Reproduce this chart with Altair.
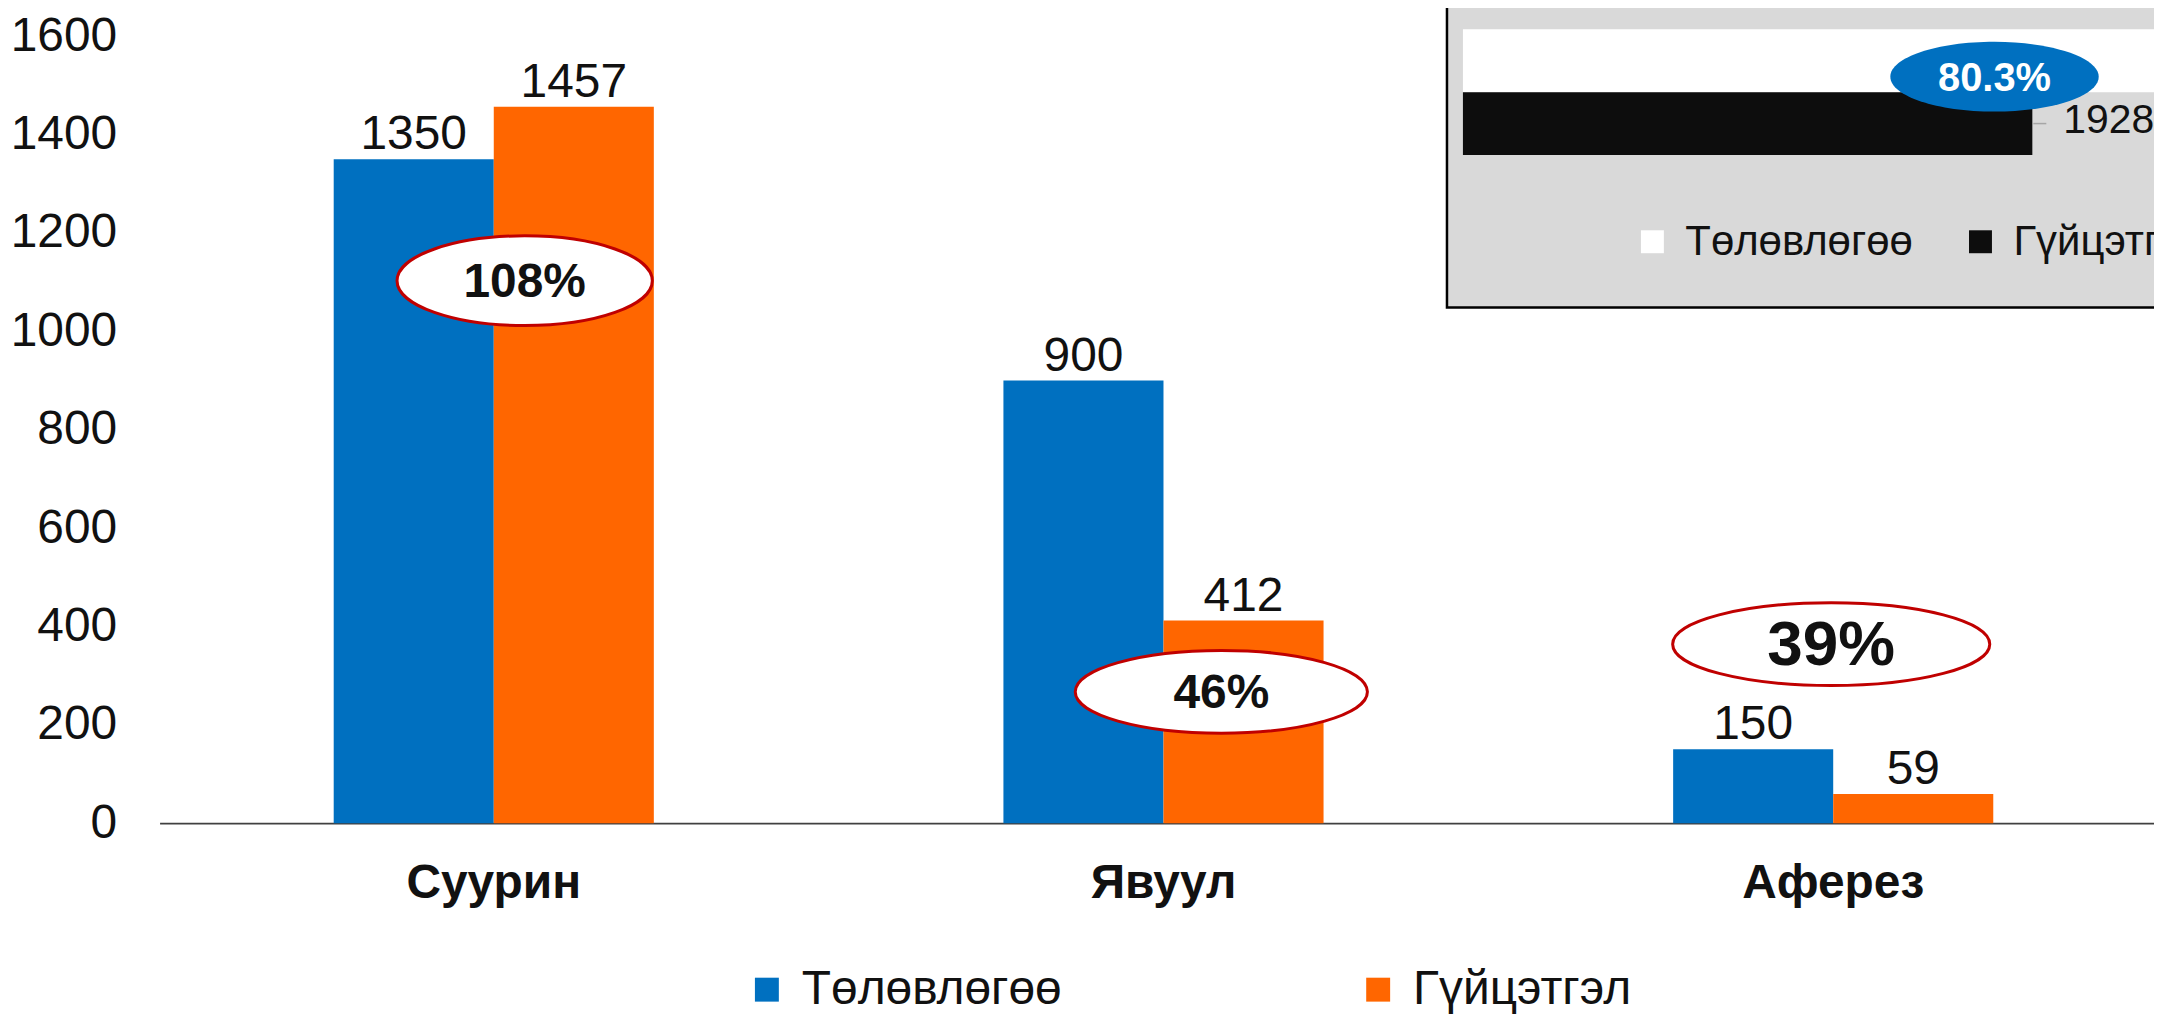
import altair as alt
import pandas as pd

# ---------------- data ----------------
categories = ["Суурин", "Явуул", "Аферез"]
series_names = ["Төлөвлөгөө", "Гүйцэтгэл"]
plan = [1350, 900, 150]
actual = [1457, 412, 59]
y_ticks = [0, 200, 400, 600, 800, 1000, 1200, 1400, 1600]

# ---------------- annotation styling ----------------
anno_y = [1103, 267, 364]        # ellipse anchor in data units
anno_dx = [31, 58, -2]           # pixel nudge from group centre
anno_w = [256, 293, 318]
anno_h = [90, 83, 83]
anno_font = [48, 48, 64]
inset_anno_x = 1800              # inset ellipse anchor (data units)

FONT = "Liberation Sans"
BLUE = "#0070c0"
ORANGE = "#ff6600"
RED = "#c00000"
INK = "#111111"

W, H = 2000, 789

rows = []
for c, p, a in zip(categories, plan, actual):
    rows.append({"cat": c, "series": series_names[0], "value": p})
    rows.append({"cat": c, "series": series_names[1], "value": a})
df = pd.DataFrame(rows)

x_scale = alt.Scale(domain=categories, paddingInner=0.522, paddingOuter=0.25, align=0.52)
y_scale = alt.Scale(domain=[0, 1600], nice=False, zero=True)
xo_scale = alt.Scale(domain=series_names, paddingInner=0, paddingOuter=0)

x_enc = alt.X("cat:N", scale=x_scale, sort=categories, title=None,
              axis=alt.Axis(labelFont=FONT, labelFontSize=48, labelFontWeight="bold",
                            labelColor=INK, labelAngle=0, ticks=False, tickSize=0,
                            labelPadding=75, labelBaseline="alphabetic", labelLimit=1000,
                            domainColor="#404040", domainWidth=2, grid=False))
y_enc = alt.Y("value:Q", scale=y_scale, title=None,
              axis=alt.Axis(values=y_ticks, format="d", labelFont=FONT, labelFontSize=48,
                            labelColor=INK, ticks=False, tickSize=0, labelPadding=43,
                            labelLimit=1000, domain=False, grid=False))
xo_enc = alt.XOffset("series:N", scale=xo_scale, sort=series_names)

bars = alt.Chart(df).mark_bar().encode(
    x=x_enc, xOffset=xo_enc, y=y_enc,
    color=alt.Color("series:N", sort=series_names,
                    scale=alt.Scale(domain=series_names, range=[BLUE, ORANGE]),
                    legend=alt.Legend(orient="none", legendX=585, legendY=932,
                                      direction="horizontal", title=None,
                                      symbolType="square", symbolSize=576,
                                      symbolStrokeWidth=0, labelLimit=1000,
                                      labelFont=FONT, labelFontSize=48, labelColor=INK,
                                      labelOffset=11, columnPadding=293)),
)

bar_labels = alt.Chart(df).mark_text(baseline="alphabetic", dy=-10, font=FONT,
                                     fontSize=48, color=INK).encode(
    x=alt.X("cat:N", scale=x_scale, sort=categories),
    xOffset=xo_enc,
    y=alt.Y("value:Q", scale=y_scale),
    text=alt.Text("value:Q", format="d"),
)

main_layers = [bars, bar_labels]
for i, c in enumerate(categories):
    pct = f"{round(actual[i] / plan[i] * 100)}%"
    adf = pd.DataFrame({"cat": [c], "yv": [anno_y[i]], "label": [pct]})
    ratio = anno_h[i] / anno_w[i]
    path = f"M-1,0 A1,{ratio:.4f},0,1,1,1,0 A1,{ratio:.4f},0,1,1,-1,0 Z"
    ell = alt.Chart(adf).mark_point(shape=path, size=anno_w[i] ** 2, filled=True,
                                    fill="white", stroke=RED, strokeWidth=3,
                                    opacity=1, fillOpacity=1, xOffset=anno_dx[i]).encode(
        x=alt.X("cat:N", scale=x_scale, sort=categories),
        y=alt.Y("yv:Q", scale=y_scale),
    )
    txt = alt.Chart(adf).mark_text(font=FONT, fontSize=anno_font[i], fontWeight="bold",
                                   color=INK, baseline="middle", xOffset=anno_dx[i],
                                   dy=2).encode(
        x=alt.X("cat:N", scale=x_scale, sort=categories),
        y=alt.Y("yv:Q", scale=y_scale),
        text="label:N",
    )
    main_layers += [ell, txt]

main = alt.layer(*main_layers)

# ---------------- inset (totals) ----------------
plan_total = sum(plan)
actual_total = sum(actual)
inset_df = pd.DataFrame({"series": series_names, "value": [plan_total, actual_total]})
act_df = pd.DataFrame({"series": [series_names[1]], "value": [actual_total]})
pct_df = pd.DataFrame({"series": [series_names[0]], "value": [inset_anno_x],
                       "label": [f"{actual_total / plan_total * 100:.1f}%"]})

px_per_unit = 571 / 1928
x0 = 1307
ix_scale = alt.Scale(domain=[0, plan_total], range=[x0, x0 + plan_total * px_per_unit],
                     nice=False, zero=True)
iy_scale = alt.Scale(domain=series_names, range=[-7, 119], paddingInner=0, paddingOuter=0)

panel = alt.Chart(pd.DataFrame({"k": [0]})).mark_rect(
    fill="#d9d9d9", stroke="#000000", strokeWidth=2.5).encode(
    x=alt.value(1291), x2=alt.value(2040), y=alt.value(-40), y2=alt.value(272))

ibars = alt.Chart(inset_df).mark_bar().encode(
    x=alt.X("value:Q", scale=ix_scale, axis=None),
    y=alt.Y("series:N", scale=iy_scale, sort=series_names, axis=None),
    color=alt.Color("series:N", sort=series_names,
                    scale=alt.Scale(domain=series_names, range=["#ffffff", "#0d0d0d"]),
                    legend=alt.Legend(orient="none", legendX=1476, legendY=185,
                                      direction="horizontal", title=None,
                                      symbolType="square", symbolSize=529,
                                      symbolStrokeWidth=0, labelLimit=1000,
                                      labelFont=FONT, labelFontSize=42, labelColor=INK,
                                      labelOffset=12, columnPadding=46)),
)

ileader = alt.Chart(act_df).mark_rule(color="#a6a6a6", strokeWidth=1.5,
                                      xOffset=1, x2Offset=14).encode(
    x=alt.X("value:Q", scale=ix_scale, axis=None),
    x2="value:Q",
    y=alt.Y("series:N", scale=iy_scale, sort=series_names, axis=None),
)

ilabel = alt.Chart(act_df).mark_text(align="left", baseline="middle", dx=31, dy=-3,
                                     font=FONT, fontSize=41, color=INK).encode(
    x=alt.X("value:Q", scale=ix_scale, axis=None),
    y=alt.Y("series:N", scale=iy_scale, sort=series_names, axis=None),
    text=alt.Text("value:Q", format="d"),
)

iratio = 70 / 209
ipath = f"M-1,0 A1,{iratio:.4f},0,1,1,1,0 A1,{iratio:.4f},0,1,1,-1,0 Z"
iell = alt.Chart(pct_df).mark_point(shape=ipath, size=209 ** 2, filled=True, fill=BLUE,
                                    strokeWidth=0, opacity=1, yOffset=16).encode(
    x=alt.X("value:Q", scale=ix_scale, axis=None),
    y=alt.Y("series:N", scale=iy_scale, sort=series_names, axis=None),
)
itxt = alt.Chart(pct_df).mark_text(font=FONT, fontSize=40, fontWeight="bold", color="white",
                                   baseline="middle", yOffset=18).encode(
    x=alt.X("value:Q", scale=ix_scale, axis=None),
    y=alt.Y("series:N", scale=iy_scale, sort=series_names, axis=None),
    text="label:N",
)

inset = alt.layer(panel, ibars, ileader, ilabel, iell, itxt)

chart = alt.layer(main, inset).resolve_scale(
    x="independent", y="independent", color="independent"
).properties(
    width=W, height=H,
    padding={"left": 152, "top": 27, "right": 0, "bottom": 190},
    autosize=alt.AutoSizeParams(type="none"),
    background="white",
).configure_view(stroke=None)

chart.save("out.html", embed_options={"renderer": "svg", "actions": False})
